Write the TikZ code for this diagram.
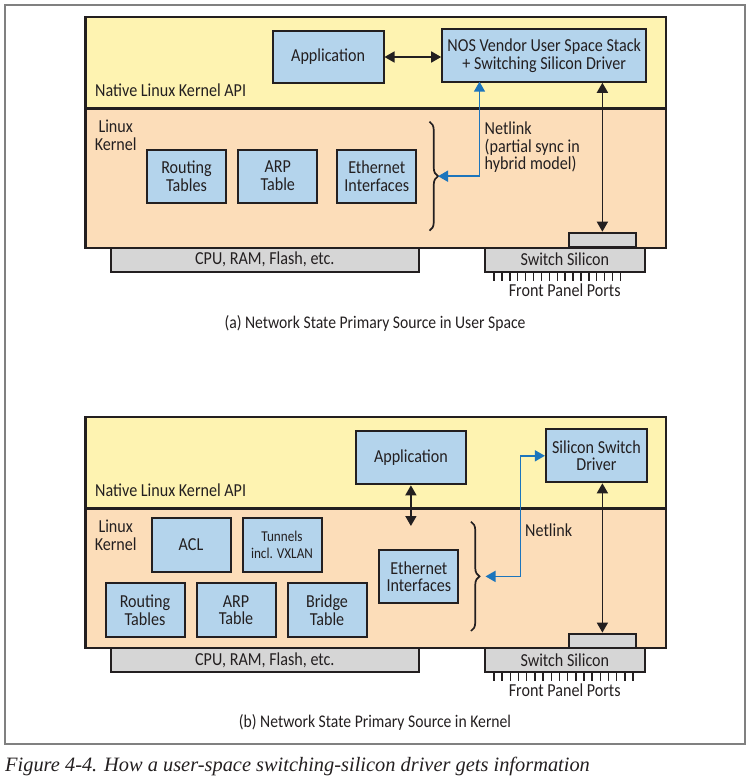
\documentclass[tikz,border=0pt]{standalone}
\usepackage{fontspec}
\setmainfont[FakeStretch=0.88]{Carlito}
\newfontfamily\bookfont{Liberation Serif}
\usetikzlibrary{
    arrows.meta,
    positioning,
    decorations.pathreplacing
}

\definecolor{userfill}{HTML}{FEF3B1}
\definecolor{kernfill}{HTML}{FCDDB9}
\definecolor{tablefill}{HTML}{B4D4EC}
\definecolor{hwfill}{HTML}{D6D6D6}
\definecolor{nlblue}{HTML}{1C75BC}
\definecolor{ink}{HTML}{231F20}

\begin{document}
\begin{tikzpicture}[
        x=1pt, y=-1pt,
        node distance=10pt,
        every node/.style={font=\fontsize{18.3}{17.7}\selectfont, text=ink},
        band/.style={
            rectangle,
            draw=ink,
            line width=2.4pt,
            anchor=north west,
            minimum width=580.7pt,
            inner sep=0pt
        },
        userband/.style={band, fill=userfill, minimum height=91.6pt},
        kernband/.style={band, fill=kernfill, minimum height=139.4pt},
        tablebox/.style={
            rectangle,
            draw=ink,
            line width=2pt,
            fill=tablefill,
            minimum width=79pt,
            minimum height=53pt,
            align=center,
            inner sep=1pt
        },
        hwbox/.style={
            rectangle,
            draw=ink,
            line width=2pt,
            fill=hwfill,
            minimum height=24.4pt,
            inner sep=0pt
        },
        chipbox/.style={hwbox, minimum width=67.8pt, minimum height=14pt},
        flow/.style={{Triangle[length=10pt,width=11pt]}-{Triangle[length=10pt,width=11pt]}, line width=1.6pt, draw=ink},
        netlink/.style={flow, draw=nlblue},
        brace/.style={decorate, decoration={brace, amplitude=8.5pt}, line width=1.7pt, draw=ink},
        port/.style={line width=1.4pt, draw=ink},
        layerlabel/.style={anchor=west, inner sep=0pt},
        caption/.style={font=\fontsize{17.8}{20}\selectfont},
        outerframe/.style={draw=black!50, line width=1.3pt}
    ]
        \useasboundingbox (0,0) rectangle (750,784);
        \draw[outerframe] (5,5) rectangle (745,744);

        % (a) network state primary source in user space
        \node[hwbox, minimum width=308.2pt] (cpuA) at (264.8,259.5) {CPU, RAM, Flash, etc.};
        \node[hwbox, minimum width=160.1pt] (siliconA) at (564.85,259.5) {Switch Silicon};
        \node[userband] (userA) at (84.3,15.7) {};
        \node[kernband] (kernA) at (84.3,107.3) {};
        \node[chipbox] (chipA) at (602.4,239.7) {};
        \foreach \i in {0,...,16}
            \draw[port] (494+\i*7.9,272.5) -- ++(0,8);
        \node (portsA) at (564.7,290.5) {Front Panel Ports};

        \node[layerlabel] (apiA) at (95,90) {Native Linux Kernel API};
        \node[align=center, inner sep=0pt] (linuxA) at (115.7,135) {Linux\\Kernel};

        \node[tablebox, minimum width=110.8pt, minimum height=52.6pt] (appA) at (328.1,57) {Application};
        \node[tablebox, minimum width=204pt, minimum height=52.7pt] (nosA) at (544.2,55.4)
            {NOS Vendor User Space Stack\\+ Switching Silicon Driver};

        \node[tablebox, minimum width=79.5pt] (routeA) at (186.5,176) {Routing\\Tables};
        \node[tablebox, right=of routeA] (arpA) {ARP\\Table};
        \node[tablebox, right=18pt of arpA] (ethA) {Ethernet\\Interfaces};

        \draw[brace] (429.5,121.7) -- (429.5,230.7);
        \coordinate (tipA) at (438,176.2);
        \coordinate (nlA) at (479.5,81.7);
        \node[anchor=north west, align=left, inner sep=0pt] (nltextA) at (484.5,121.5)
            {Netlink\\(partial sync in\\hybrid model)};

        \draw[flow] (appA.east) -- (appA.east -| nosA.west);
        \draw[netlink] (tipA) -| (nlA);
        \draw[flow] (chipA.north) -- (chipA.north |- nosA.south);

        \node[caption] (capA) at (375,323) {(a) Network State Primary Source in User Space};

        % (b) network state primary source in kernel
        \node[hwbox, minimum width=308.2pt] (cpuB) at (264.8,660) {CPU, RAM, Flash, etc.};
        \node[hwbox, minimum width=160.1pt] (siliconB) at (564.85,660) {Switch Silicon};
        \node[userband] (userB) at (84.3,415.7) {};
        \node[kernband] (kernB) at (84.3,507.5) {};
        \node[chipbox] (chipB) at (602.4,640.6) {};
        \foreach \i in {0,...,17}
            \draw[port] (494+\i*8.18,673) -- ++(0,8);
        \node (portsB) at (564.7,690.7) {Front Panel Ports};

        \node[layerlabel] (apiB) at (95,490.7) {Native Linux Kernel API};
        \node[align=center, inner sep=0pt] (linuxB) at (115.7,535.4) {Linux\\Kernel};

        \node[tablebox, minimum width=110pt, minimum height=53.3pt] (appB) at (410.9,457.7) {Application};
        \node[tablebox, minimum width=101pt] (drvB) at (596.4,455.8) {Silicon Switch\\Driver};

        \node[tablebox, minimum height=54pt] (aclB) at (191,544.7) {ACL};
        \node[tablebox, minimum height=54pt, right=of aclB,
              font=\fontsize{15}{17.5}\selectfont] (tunB) {Tunnels\\incl. VXLAN};
        \node[tablebox, minimum height=54pt] (routeB) at (145,610.3) {Routing\\Tables};
        \node[tablebox, minimum height=54pt, right=of routeB] (arpB) {ARP\\Table};
        \node[tablebox, minimum height=54pt, right=of arpB] (bridgeB) {Bridge\\Table};
        \node[tablebox, minimum height=53.3pt] (ethB) at (418.9,576.7) {Ethernet\\Interfaces};

        \draw[brace] (471,521.7) -- (471,631);
        \coordinate (tipB) at (485.5,576.4);
        \coordinate (bendB) at (520.5,455.8);
        \coordinate (kernelB) at (410.9,526);
        \node[anchor=west, inner sep=0pt] (nltextB) at (525,530) {Netlink};

        \draw[flow] (appB.south) -- (kernelB);
        \draw[netlink] (tipB) -| (bendB) -- (drvB.west);
        \draw[flow] (chipB.north) -- (chipB.north |- drvB.south);

        \node[caption] (capB) at (375,722) {(b) Network State Primary Source in Kernel};

        \node[anchor=west, inner sep=0pt, font={\bookfont\itshape\fontsize{20.4}{22}\selectfont}] (figcap) at (5,766)
            {Figure 4-4. How a user-space switching-silicon driver gets information};
    \end{tikzpicture}
\end{document}
